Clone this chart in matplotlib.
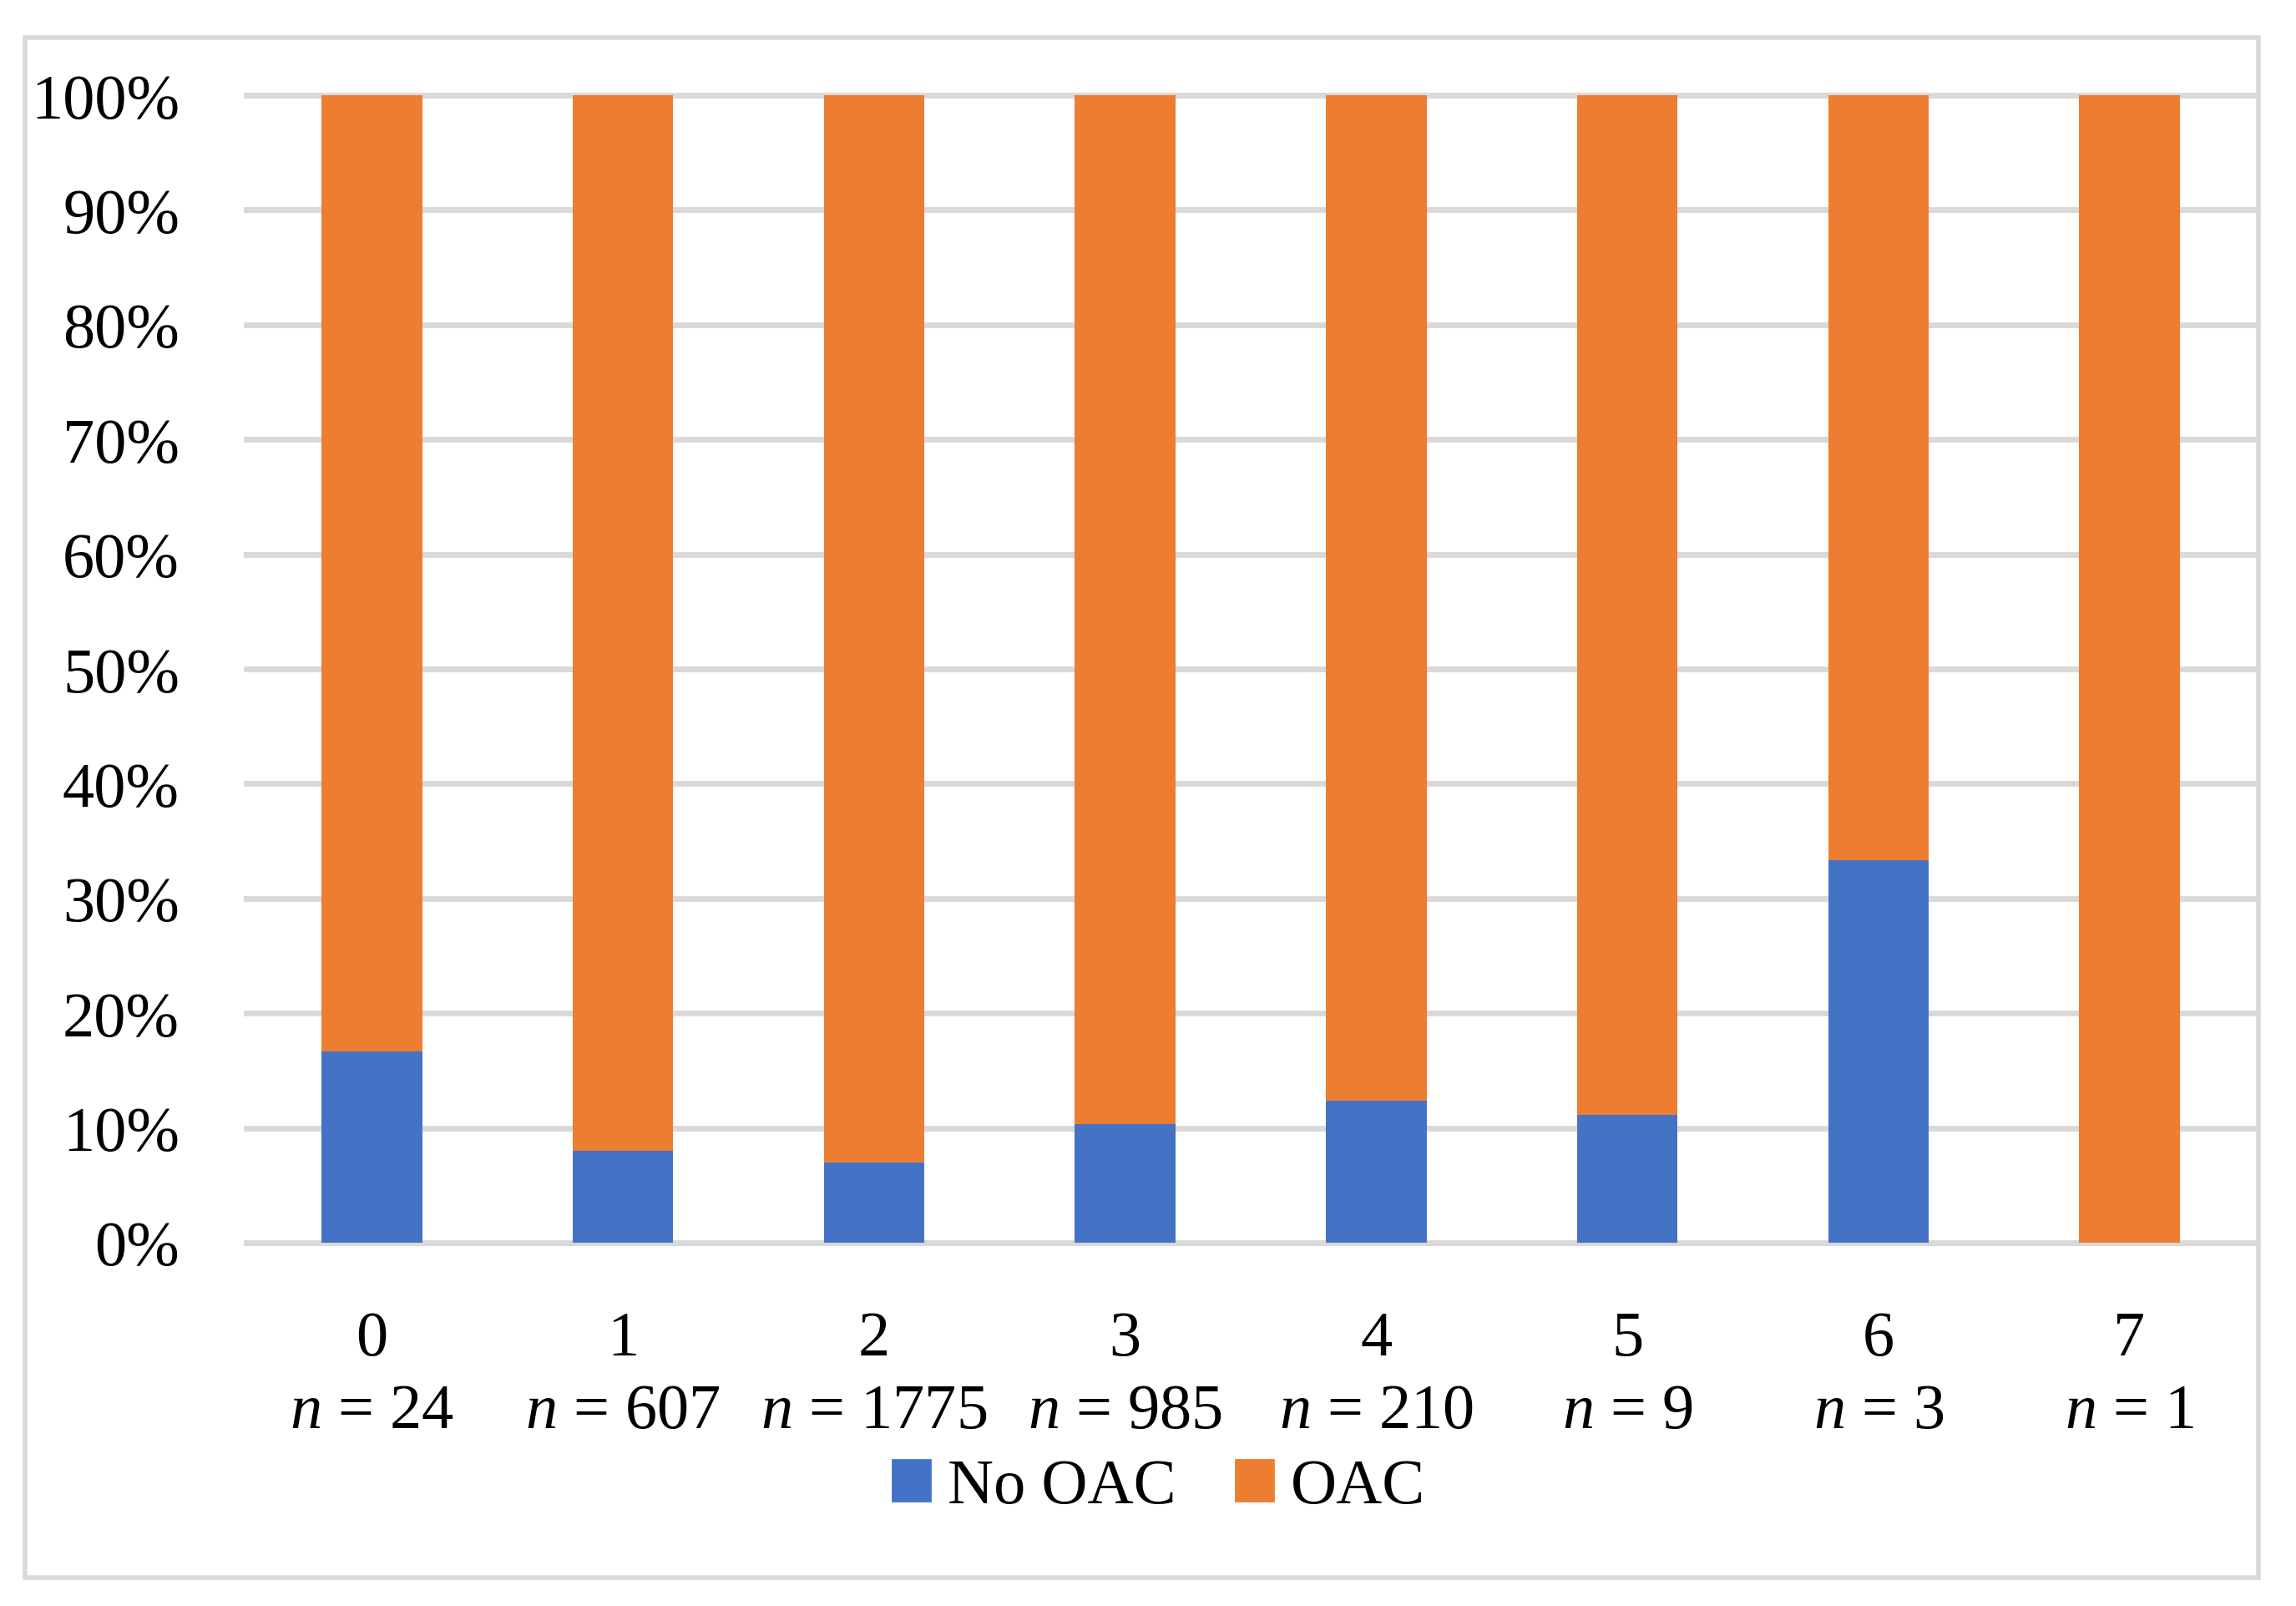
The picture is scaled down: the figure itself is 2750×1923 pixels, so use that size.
import matplotlib
matplotlib.use('Agg')
import matplotlib.pyplot as plt
from matplotlib.patches import Rectangle, Patch
import numpy as np

plt.rcParams['font.family'] = ['Liberation Serif', 'DejaVu Serif']
plt.rcParams['mathtext.fontset'] = 'custom'
plt.rcParams['mathtext.it'] = 'Liberation Serif:italic'
plt.rcParams['mathtext.rm'] = 'Liberation Serif'

# data
categories = ['0', '1', '2', '3', '4', '5', '6', '7']
n_counts = [24, 607, 1775, 985, 210, 9, 3, 1]
no_oac_pct = [16.7, 8.0, 7.0, 10.35, 12.35, 11.1, 33.3, 0.0]
oac_pct = [100 - v for v in no_oac_pct]
y_ticks = [0, 10, 20, 30, 40, 50, 60, 70, 80, 90, 100]

blue = '#4472C4'
orange = '#ED7D31'
grey = '#D9D9D9'
fs = 27.5

fig = plt.figure(figsize=(13.75, 9.62), dpi=200)
ax = fig.add_axes([295 / 2750, 1 - 1489 / 1924, 2406 / 2750, 1374 / 1924])

x = np.arange(len(categories))
ax.bar(x, no_oac_pct, width=0.40, color=blue, label='No OAC', zorder=3)
ax.bar(x, oac_pct, width=0.40, bottom=no_oac_pct, color=orange, label='OAC', zorder=3)

ax.set_xlim(-0.5, len(categories) - 0.5)
ax.set_ylim(0, 100)
ax.set_yticks(y_ticks)
ax.set_yticklabels([f'{t}%' for t in y_ticks], fontsize=fs)
ax.yaxis.grid(True, color=grey, linewidth=2.5, zorder=0)
for gl in ax.get_ygridlines():
    gl.set_clip_on(False)
ax.set_axisbelow(True)
ax.tick_params(axis='y', length=0, pad=28.8)
ax.set_xticks(x)
ax.set_xticklabels([])
ax.tick_params(axis='x', length=0)
for s in ax.spines.values():
    s.set_visible(False)

# two-line category labels
trans = ax.get_xaxis_transform()
for xi, cat, n in zip(x, categories, n_counts):
    ax.text(xi, -0.0976, cat, transform=trans, ha='center', va='baseline', fontsize=fs)
    ax.text(xi, -0.161, f'$\\it{{n}}$ = {n}', transform=trans, ha='center', va='baseline',
            fontsize=fs)

handles = [Patch(color=blue, label='No OAC'), Patch(color=orange, label='OAC')]
fig.legend(handles=handles, loc='center', bbox_to_anchor=(0.5047, 1 - 1782 / 1924), ncol=2,
           frameon=False, fontsize=fs, handlelength=0.6, handleheight=0.6,
           handletextpad=0.27, columnspacing=0.93, borderpad=0, borderaxespad=0)

# outer chart frame
fig.patches.append(Rectangle((30 / 2750, 1 - 1890 / 1924), 2675 / 2750, 1844 / 1924,
                             transform=fig.transFigure, fill=False, edgecolor=grey,
                             linewidth=2.0, zorder=0))

fig.savefig('out.png', dpi=200, facecolor='white')
